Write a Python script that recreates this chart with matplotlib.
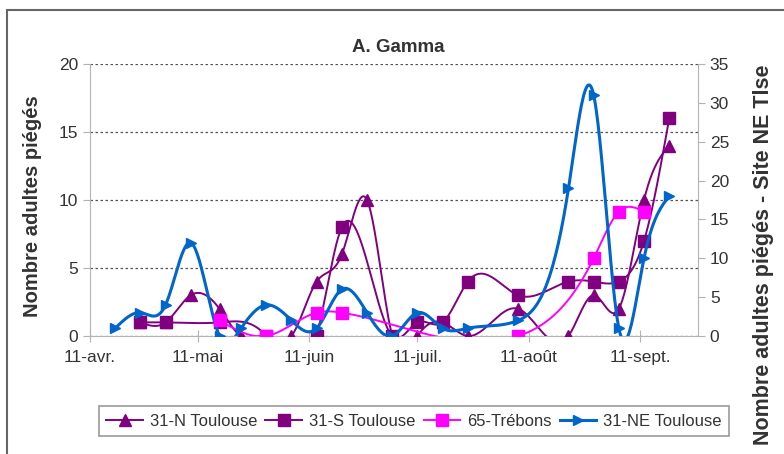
import numpy as np
import matplotlib
matplotlib.use("Agg")
import matplotlib.pyplot as plt
import matplotlib.dates as mdates
from matplotlib.lines import Line2D
from matplotlib.patches import Rectangle
from datetime import date

plt.rcParams['font.family'] = ['Liberation Sans', 'DejaVu Sans']

# Data (trap counts per sampling date)
n_dates = ["2011-04-25", "2011-05-02", "2011-05-09", "2011-05-17", "2011-05-23", "2011-05-30",
           "2011-06-06", "2011-06-13", "2011-06-20", "2011-06-27", "2011-07-04", "2011-07-11",
           "2011-07-18", "2011-07-25", "2011-08-08", "2011-08-22", "2011-08-29", "2011-09-05",
           "2011-09-12", "2011-09-19"]
n_vals = [1, 1, 3, 2, 0, 0, 0, 4, 6, 10, 0, 0, 1, 0, 2, 0, 3, 2, 10, 14]

s_dates = ["2011-04-25", "2011-05-02", "2011-05-17", "2011-05-30", "2011-06-13", "2011-06-20",
           "2011-07-04", "2011-07-11", "2011-07-18", "2011-07-25", "2011-08-08", "2011-08-22",
           "2011-08-29", "2011-09-05", "2011-09-12", "2011-09-19"]
s_vals = [1, 1, 1, 0, 0, 8, 0, 1, 1, 4, 3, 4, 4, 4, 7, 16]

tr_dates = ["2011-05-17", "2011-05-30", "2011-06-13", "2011-06-20", "2011-08-08", "2011-08-29",
            "2011-09-05", "2011-09-12"]
tr_vals = [2, 0, 3, 3, 0, 10, 16, 16]

ne_dates = ["2011-04-18", "2011-04-25", "2011-05-02", "2011-05-09", "2011-05-17", "2011-05-23",
            "2011-05-30", "2011-06-06", "2011-06-13", "2011-06-20", "2011-06-27", "2011-07-04",
            "2011-07-11", "2011-07-18", "2011-07-25", "2011-08-08", "2011-08-22", "2011-08-29",
            "2011-09-05", "2011-09-12", "2011-09-19"]
ne_vals = [1, 3, 4, 12, 0, 1, 4, 2, 1, 6, 3, 0, 3, 1, 1, 2, 19, 31, 1, 10, 18]

tick_dates = ["2011-04-11", "2011-05-11", "2011-06-11", "2011-07-11", "2011-08-11", "2011-09-11"]
tick_labels = ["11-avr.", "11-mai", "11-juin", "11-juil.", "11-août", "11-sept."]


def to_num(ds):
    return mdates.date2num([date.fromisoformat(d) for d in ds])


def smooth(xs, ys, n=600):
    # natural cubic spline
    x = np.asarray(xs, float)
    y = np.asarray(ys, float)
    h = np.diff(x)
    k = len(x)
    A = np.zeros((k, k))
    r = np.zeros(k)
    A[0, 0] = A[-1, -1] = 1
    for i in range(1, k - 1):
        A[i, i - 1] = h[i - 1]
        A[i, i] = 2 * (h[i - 1] + h[i])
        A[i, i + 1] = h[i]
        r[i] = 6 * ((y[i + 1] - y[i]) / h[i] - (y[i] - y[i - 1]) / h[i - 1])
    M = np.linalg.solve(A, r)
    xx = np.linspace(x[0], x[-1], n)
    j = np.clip(np.searchsorted(x, xx) - 1, 0, k - 2)
    hh = x[j + 1] - x[j]
    a = x[j + 1] - xx
    b = xx - x[j]
    yy = (M[j] * a ** 3 + M[j + 1] * b ** 3) / (6 * hh) \
        + (y[j] / hh - M[j] * hh / 6) * a + (y[j + 1] / hh - M[j + 1] * hh / 6) * b
    return xx, yy


purple = '#800080'
pink = '#ff00ff'
blue = '#0066cc'
grey = '#b3b3b3'

fig = plt.figure(figsize=(7.84, 4.54), dpi=100)
ax = fig.add_axes([90 / 784, 118 / 454, 608 / 784, 272 / 454])
ax2 = ax.twinx()

series = [
    (ax, n_dates, n_vals, purple, '^', 1.4, 8, '31-N Toulouse'),
    (ax, s_dates, s_vals, purple, 's', 1.4, 8, '31-S Toulouse'),
    (ax2, tr_dates, tr_vals, pink, 's', 1.4, 8, '65-Trébons'),
    (ax2, ne_dates, ne_vals, blue, '>', 2.2, 7, '31-NE Toulouse'),
]
handles = []
for a, ds, vs, c, m, lw, ms, lab in series:
    xn = to_num(ds)
    xx, yy = smooth(xn, vs)
    a.plot(xx, yy, color=c, lw=lw, zorder=3)
    a.plot(xn, vs, ls='none', marker=m, color=c, ms=ms, zorder=4)
    handles.append(Line2D([], [], color=c, lw=lw, marker=m, ms=ms, label=lab))

xmin = mdates.date2num(date(2011, 4, 11))
xmax = mdates.date2num(date(2011, 9, 27))
ax.set_xlim(xmin, xmax)
ax.set_ylim(0, 20)
ax2.set_ylim(0, 35)
ax.set_yticks([0, 5, 10, 15, 20])
ax2.set_yticks([0, 5, 10, 15, 20, 25, 30, 35])
ax.set_xticks(to_num(tick_dates))
ax.set_xticklabels(tick_labels)
ax.yaxis.grid(True, ls=(0, (2, 2)), color='#555555', lw=0.9)
ax.set_axisbelow(True)

for a in (ax, ax2):
    for s in a.spines.values():
        s.set_color(grey)
    a.spines['top'].set_visible(False)
    a.tick_params(colors=grey, labelcolor='#333333', labelsize=12.5, length=5)
ax.spines['right'].set_visible(False)
ax2.spines['left'].set_visible(False)
ax2.spines['bottom'].set_visible(False)
ax.tick_params(axis='x', direction='inout', length=8, pad=6)

fig.text(33 / 784, 1 - 206 / 454, 'Nombre adultes piégés', fontsize=14.5, fontweight='bold',
         color='#333333', rotation=90, ha='center', va='center')
fig.text(763 / 784, 1 - 255 / 454, 'Nombre adultes piégés - Site NE Tlse', fontsize=15.5,
         fontweight='bold', color='#333333', rotation=90, ha='center', va='center')
fig.text(398 / 784, 1 - 47 / 454, 'A. Gamma', fontsize=13.5, fontweight='bold', color='#333333',
         ha='center', va='center')

leg = fig.legend(handles=handles, loc='center', bbox_to_anchor=(414 / 784, 1 - 421 / 454), ncol=4,
                 fontsize=12, frameon=True, fancybox=False, handlelength=2.2, handletextpad=0.4,
                 columnspacing=0.5, borderpad=0.45)
leg.get_frame().set_edgecolor('#808080')
leg.get_frame().set_linewidth(1.2)
for t in leg.get_texts():
    t.set_color('#333333')

fig.patches.append(Rectangle((7 / 784, -0.1), 1.2, 1 - 10 / 454 + 0.1, transform=fig.transFigure,
                             fill=False, edgecolor='#666666', lw=1.5))

fig.savefig('out.png', dpi=100)
